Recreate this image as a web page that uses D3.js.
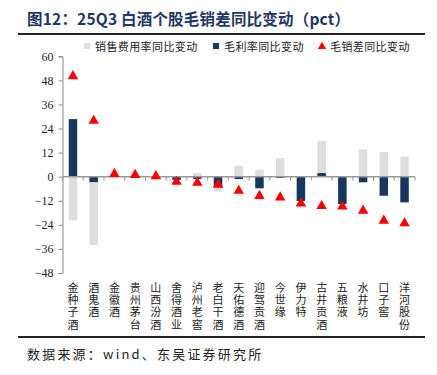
<!DOCTYPE html>
<html>
<head>
<meta charset="utf-8">
<script src="https://cdn.jsdelivr.net/npm/d3@7"></script>
<style>
  body { margin: 0; background: #fff; }
  svg { display: block; }
</style>
</head>
<body>
<div id="chart"></div>
<script>
// 数据
const companies = ['金种子酒', '酒鬼酒', '金徽酒', '贵州茅台', '山西汾酒', '舍得酒业', '泸州老窖', '老白干酒', '天佑德酒',
  '迎驾贡酒', '今世缘', '伊力特', '古井贡酒', '五粮液', '水井坊', '口子窖', '洋河股份']
const expenseChg = [-21.8, -34, 0, 0, 0, 0, 1.8, -7.4, 5.5, 3.5, 9.3, 0.3, 17.9, 0.3, 13.6, 12.3, 10.1]
const grossChg = [28.7, -2.7, 0, 0, 0, -1.6, -1.1, -5.1, -1.2, -5.8, -0.6, -12.1, 1.8, -13.6, -2.8, -9.5, -12.8]
const spreadChg = [50.1, 27.9, 1.4, 0.9, 0.3, -2.5, -3, -4, -7, -9.6, -10.3, -13.3, -14.6, -14.9, -16.9, -21.9, -23.2]
const yTicks = [60, 48, 36, 24, 12, 0, -12, -24, -36, -48]
const legendNames = ['销售费用率同比变动', '毛利率同比变动', '毛销差同比变动']

const width = 437, height = 375
const plot = { left: 62.5, right: 415, top: 56.3, bottom: 273 }
const grey = '#dedede', navy = '#17375e', red = '#ff0000'
const cjk = '"Noto Sans CJK SC", sans-serif'

const svg = d3.select('#chart').append('svg')
  .attr('width', width)
  .attr('height', height)

// 标题
svg.append('text')
  .attr('x', 27).attr('y', 25)
  .attr('font-family', cjk)
  .attr('font-size', 15.5)
  .attr('font-weight', 'bold')
  .attr('letter-spacing', 0.2)
  .attr('fill', '#1f3864')
  .text('图12：25Q3 白酒个股毛销差同比变动（pct）')

svg.append('line')
  .attr('x1', 18).attr('x2', 425).attr('y1', 34).attr('y2', 34)
  .attr('stroke', '#222').attr('stroke-width', 2)

svg.append('line')
  .attr('x1', 18).attr('x2', 425).attr('y1', 337).attr('y2', 337)
  .attr('stroke', '#222').attr('stroke-width', 2)

svg.append('text')
  .attr('x', 27).attr('y', 359)
  .attr('font-family', cjk)
  .attr('font-size', 13)
  .attr('letter-spacing', 2.2)
  .attr('fill', '#222')
  .text('数据来源：wind、东吴证券研究所')

// scales
const x = d3.scaleBand().domain(companies).range([plot.left, plot.right]).paddingInner(0.59).paddingOuter(0.3)
const y = d3.scaleLinear().domain([-48, 60]).range([plot.bottom, plot.top])

// y轴
const yAxis = svg.append('g')
  .attr('transform', `translate(${plot.left}, 0)`)
  .call(d3.axisLeft(y).tickValues(yTicks).tickSize(4).tickPadding(5))
yAxis.select('.domain').attr('stroke', '#888')
yAxis.selectAll('.tick line').attr('stroke', '#888')
yAxis.selectAll('.tick text')
  .attr('font-family', '"Liberation Serif", serif')
  .attr('font-size', 12)
  .attr('fill', '#222')

const bars = svg.append('g')
bars.selectAll('.grey-bar')
  .data(expenseChg).enter()
  .append('rect')
  .attr('class', 'grey-bar')
  .attr('x', (d, i) => x(companies[i]))
  .attr('width', x.bandwidth())
  .attr('y', d => y(Math.max(0, d)))
  .attr('height', d => Math.abs(y(d) - y(0)))
  .attr('fill', grey)

bars.selectAll('.navy-bar')
  .data(grossChg).enter()
  .append('rect')
  .attr('class', 'navy-bar')
  .attr('x', (d, i) => x(companies[i]))
  .attr('width', x.bandwidth())
  .attr('y', d => y(Math.max(0, d)))
  .attr('height', d => Math.abs(y(d) - y(0)))
  .attr('fill', navy)

// x轴 (0 处)
const boundaries = d3.range(companies.length + 1).map(i => plot.left + i * (plot.right - plot.left) / companies.length)
svg.append('line')
  .attr('x1', plot.left).attr('x2', plot.right)
  .attr('y1', y(0)).attr('y2', y(0))
  .attr('stroke', '#999').attr('stroke-width', 1.5)
svg.selectAll('.xtick')
  .data(boundaries).enter()
  .append('line')
  .attr('x1', d => d).attr('x2', d => d)
  .attr('y1', y(0)).attr('y2', y(0) + 4)
  .attr('stroke', '#999')

// 三角
const tri = d3.symbol().type(d3.symbolTriangle).size(48)
svg.append('g').selectAll('path')
  .data(spreadChg).enter()
  .append('path')
  .attr('d', tri)
  .attr('transform', (d, i) => `translate(${x(companies[i]) + x.bandwidth() / 2}, ${y(d)})`)
  .attr('fill', red)

// x 标签 竖排
svg.append('g').selectAll('text')
  .data(companies).enter()
  .append('text')
  .attr('x', d => x(d) + x.bandwidth() / 2)
  .attr('y', 282)
  .attr('writing-mode', 'vertical-rl')
  .attr('letter-spacing', 1.3)
  .attr('font-family', cjk)
  .attr('font-size', 11)
  .attr('fill', '#222')
  .text(d => d)

// 图例
const legend = svg.append('g')
legend.append('rect').attr('x', 84).attr('y', 43).attr('width', 6).attr('height', 6).attr('fill', grey)
legend.append('rect').attr('x', 213).attr('y', 43).attr('width', 6).attr('height', 6).attr('fill', navy)
legend.append('path').attr('d', d3.symbol().type(d3.symbolTriangle).size(30))
  .attr('transform', 'translate(322, 46.5)').attr('fill', red)
const legendX = [95, 224, 330]
legend.selectAll('text')
  .data(legendNames).enter()
  .append('text')
  .attr('x', (d, i) => legendX[i])
  .attr('y', 50.5)
  .attr('font-family', cjk)
  .attr('font-size', 11)
  .attr('letter-spacing', 0.4)
  .attr('fill', '#222')
  .text(d => d)
</script>
</body>
</html>
